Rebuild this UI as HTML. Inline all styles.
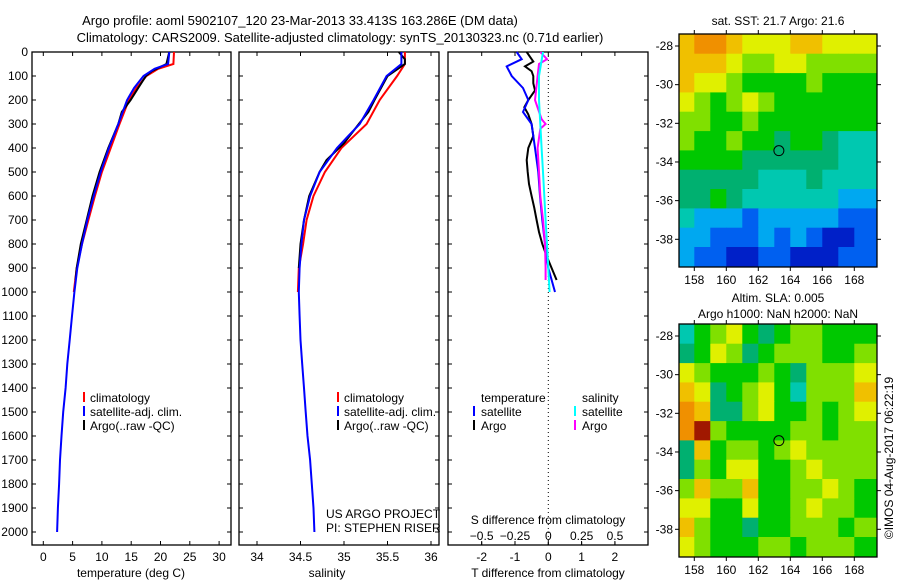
<!DOCTYPE html>
<html><head><meta charset="utf-8"><style>
html,body{margin:0;padding:0;background:#fff;}
svg{display:block;font-family:"Liberation Sans",sans-serif;}
</style></head><body>
<svg id="chart" width="900" height="580" viewBox="0 0 900 580" xmlns="http://www.w3.org/2000/svg">
<text x="300" y="25" font-size="13" text-anchor="middle">Argo profile: aoml 5902107_120 23-Mar-2013 33.413S 163.286E (DM data)</text>
<text x="340" y="42" font-size="13" text-anchor="middle">Climatology: CARS2009. Satellite-adjusted climatology: synTS_20130323.nc (0.71d earlier)</text>
<g id="g"></g>
</svg>
<script>
// ---- depth profiles ----
const tClimDepth=[0,50,70,100,150,200,300,400,500,600,700,800,900,1000];
const tClimVal=[22.3,22.2,19.6,17.6,15.9,14.6,13.0,11.5,10.0,8.8,7.7,6.6,5.7,5.2];
const tSatDepth=[0,50,70,100,150,200,300,400,500,600,700,800,900,1000,1100,1200,1300,1400,1500,1600,1700,1800,1900,2000];
const tSatVal=[21.5,21.3,19.0,17.1,15.5,14.3,12.8,11.2,9.8,8.6,7.5,6.6,5.8,5.3,4.9,4.5,4.1,3.8,3.4,3.1,2.85,2.7,2.5,2.35];
const tArgoDepth=[0,50,80,100,150,200,250,300,400,500,600,700,800,900,950];
const tArgoVal=[21.5,21.0,18.5,17.5,16.2,14.9,13.4,12.8,11.1,9.6,8.4,7.4,6.4,5.7,5.5];
const sClimDepth=[0,50,100,200,300,400,500,600,700,800,900,1000];
const sClimVal=[35.70,35.70,35.61,35.41,35.26,34.97,34.78,34.65,34.57,34.53,34.48,34.47];
const sSatDepth=[0,50,100,200,300,350,400,500,600,700,800,900,1000,1100,1200,1300,1400,1500,1600,1700,1800,1900,2000];
const sSatVal=[35.66,35.66,35.49,35.34,35.18,35.05,34.92,34.72,34.61,34.54,34.51,34.49,34.48,34.49,34.50,34.52,34.54,34.56,34.58,34.61,34.63,34.65,34.66];
const sArgoDepth=[0,30,50,100,200,250,300,380,450,500,600,700,800,900];
const sArgoVal=[35.63,35.70,35.70,35.50,35.35,35.28,35.17,35.00,34.80,34.72,34.60,34.54,34.50,34.48];
// ---- differences ----
const dTSatDepth=[0,30,60,100,150,200,250,300,400,500,600,700,800,900,1000];
const dTSatVal=[-0.95,-0.8,-1.25,-1.1,-0.76,-0.6,-0.76,-0.5,-0.4,-0.3,-0.25,-0.18,-0.1,0.0,0.2];
const dTArgoDepth=[0,20,40,60,80,100,130,160,200,230,260,300,350,400,450,500,550,600,650,700,750,800,850,900,950];
const dTArgoVal=[-0.65,-0.55,-0.45,-0.7,-0.5,-0.45,-0.45,-0.4,-0.6,-0.72,-0.6,-0.5,-0.45,-0.6,-0.65,-0.62,-0.58,-0.5,-0.42,-0.35,-0.28,-0.18,-0.05,0.1,0.25];
const dSArgoDepth=[0,30,50,100,200,280,300,320,400,500,600,700,800,900,950];
const dSArgoVal=[-0.06,-0.01,-0.07,-0.08,-0.1,-0.05,-0.02,-0.06,-0.08,-0.07,-0.06,-0.04,-0.025,-0.02,-0.02];
const dSSatDepth=[0,100,200,300,400,500,600,700,800,900,1000];
const dSSatVal=[-0.04,-0.07,-0.07,-0.06,-0.05,-0.04,-0.03,-0.02,-0.01,0.0,0.01];
// ---- ticks ----
const depthTicks=[0,100,200,300,400,500,600,700,800,900,1000,1100,1200,1300,1400,1500,1600,1700,1800,1900,2000];
const tempTicks=[0,5,10,15,20,25,30];
const salTicks=[34,34.5,35,35.5,36];
const dTTicks=[-2,-1,0,1,2];
const dSTicks=[-0.5,-0.25,0,0.25,0.5];
const latTicks=[28,30,32,34,36,38];
const lonTicks=[158,160,162,164,166,168];
// ---- maps (color index per 1-degree cell, rows lat 28..39, cols lon 157.5..168.5) ----
const sstGrid=[
[9,10,10,9,8,8,8,9,9,8,8,8],
[9,9,9,8,7,7,8,8,7,7,7,7],
[9,8,8,7,6,6,6,6,7,6,6,6],
[8,7,6,7,8,7,6,6,6,6,6,6],
[7,7,6,6,7,6,6,6,6,6,6,6],
[7,6,6,7,6,6,5,6,6,5,4,4],
[6,6,6,6,5,5,5,5,5,5,4,4],
[5,5,5,5,5,4,4,4,5,4,4,4],
[5,5,6,5,4,4,4,4,4,4,3,3],
[4,3,3,3,2,3,3,3,3,3,2,2],
[3,3,2,2,2,3,2,3,2,1,1,2],
[3,2,2,1,1,2,2,1,1,1,2,2]];
const slaGrid=[
[4,6,7,8,6,5,6,7,7,6,6,6],
[5,6,8,7,5,6,7,7,7,6,6,7],
[8,7,6,6,6,7,6,5,7,7,7,8],
[9,8,5,6,7,8,6,4,7,7,7,9],
[10,9,5,5,7,8,6,6,7,6,7,8],
[10,11,7,6,6,6,6,7,7,6,7,7],
[5,9,6,7,7,6,7,8,7,7,7,7],
[5,7,6,8,8,6,6,7,8,7,7,7],
[7,9,7,7,9,6,6,7,7,8,7,6],
[8,8,6,6,8,6,6,7,8,7,7,6],
[9,7,6,6,5,6,6,7,7,7,6,7],
[8,7,6,6,6,7,7,6,7,7,7,6]];
const palette=['#00008c','#0020c8','#0060f0','#00a8f0','#00c8b0','#00b070','#00c800','#80e000','#e0f000','#f0c000','#f09000','#a01800'];
const argoLon=163.286, argoLat=33.413;

const G=document.getElementById('g');
const NS='http://www.w3.org/2000/svg';
function el(tag,attrs,parent){const e=document.createElementNS(NS,tag);for(const k in attrs)e.setAttribute(k,attrs[k]);(parent||G).appendChild(e);return e;}
const top0=52, bot=545;
const yD=d=>top0+d*0.24;
const xT=t=>43.3+t*5.86;
const xS=s=>257+(s-34)*87;
const xDT=t=>548.3+t*33.3;
const xDS=s=>548.3+s*133.3;

function line(xs,ds,fx,color,name,w){
  const pts=xs.map((v,i)=>fx(v).toFixed(1)+','+yD(ds[i]).toFixed(1)).join(' ');
  const p=el('polyline',{points:pts,fill:'none',stroke:color,'stroke-width':w||2});
  
  
}
function panel(x0,x1,name){
  const r=el('rect',{x:x0,y:top0,width:x1-x0,height:bot-top0,fill:'none',stroke:'#000','stroke-width':1.3});
  
  
  depthTicks.forEach(d=>{el('line',{x1:x0,x2:x0+4,y1:yD(d),y2:yD(d),stroke:'#000'});el('line',{x1:x1-4,x2:x1,y1:yD(d),y2:yD(d),stroke:'#000'});});
}
function txt(x,y,s,name,size,anchor){const t=el('text',{x:x,y:y,'font-size':size||12,'text-anchor':anchor||'start'});t.textContent=s;return t;}

// Panel 1
panel(32,231,'temperature-panel');
depthTicks.forEach(d=>{txt(28,yD(d)+4,String(d),'depth-tick-label',12,'end');});
tempTicks.forEach(t=>{el('line',{x1:xT(t),x2:xT(t),y1:bot,y2:bot-4,stroke:'#000'});el('line',{x1:xT(t),x2:xT(t),y1:top0,y2:top0+4,stroke:'#000'});txt(xT(t),561,String(t),'temp-tick-label',12,'middle');});
txt(131,577,'temperature (deg C)','x-axis-title-temperature',12,'middle');
line(tClimVal,tClimDepth,xT,'#f00','temp-climatology-line');
line(tArgoVal,tArgoDepth,xT,'#000','temp-argo-line');
line(tSatVal,tSatDepth,xT,'#00f','temp-satellite-line');
// Panel 2
panel(239,439,'salinity-panel');
salTicks.forEach(s=>{el('line',{x1:xS(s),x2:xS(s),y1:bot,y2:bot-4,stroke:'#000'});el('line',{x1:xS(s),x2:xS(s),y1:top0,y2:top0+4,stroke:'#000'});txt(xS(s),561,String(s),'salinity-tick-label',12,'middle');});
txt(327,577,'salinity','x-axis-title-salinity',12,'middle');
line(sClimVal,sClimDepth,xS,'#f00','sal-climatology-line');
line(sArgoVal,sArgoDepth,xS,'#000','sal-argo-line');
line(sSatVal,sSatDepth,xS,'#00f','sal-satellite-line');
txt(326,518,'US ARGO PROJECT','project-credit',12);
txt(326,532,'PI: STEPHEN RISER','pi-credit',12);
// legends
[[84,'#f00','climatology'],[84,'#00f','satellite-adj. clim.'],[84,'#000','Argo(..raw -QC)']].forEach((l,i)=>{
  [83,337].forEach(x=>{el('rect',{x:x,y:392+i*14,width:2,height:10,fill:l[1]});txt(x+7,402+i*14,l[2],'legend-entry',12);});
});
// Panel 3
panel(448,648,'difference-panel');
const zl=el('line',{x1:548.3,x2:548.3,y1:top0,y2:bot,stroke:'#000','stroke-dasharray':'1,3'});


dTTicks.forEach(t=>{el('line',{x1:xDT(t),x2:xDT(t),y1:bot,y2:bot-4,stroke:'#000'});el('line',{x1:xDT(t),x2:xDT(t),y1:top0,y2:top0+4,stroke:'#000'});txt(xDT(t),561,String(t),'dT-tick-label',12,'middle');});
dSTicks.forEach(s=>{txt(xDS(s),540,String(s).replace('-','\u2212'),'dS-tick-label',12,'middle');el('line',{x1:xDS(s),x2:xDS(s),y1:bot,y2:bot-3,stroke:'#000'});});
txt(548,524,'S difference from climatology','s-diff-axis-title',12,'middle');
txt(548,577,'T difference from climatology','t-diff-axis-title',12,'middle');
line(dTArgoVal,dTArgoDepth,xDT,'#000','dT-argo-line');
line(dTSatVal,dTSatDepth,xDT,'#00f','dT-satellite-line');
line(dSArgoVal,dSArgoDepth,xDS,'#f0f','dS-argo-line');
line(dSSatVal,dSSatDepth,xDS,'#0ff','dS-satellite-line');
txt(481,402,'temperature','legend-header-temperature',12);
txt(582,402,'salinity','legend-header-salinity',12);
[[473,'#00f','satellite',416],[473,'#000','Argo',430],[574,'#0ff','satellite',416],[574,'#f0f','Argo',430]].forEach(l=>{el('rect',{x:l[0],y:l[3]-10,width:2,height:10,fill:l[1]});txt(l[0]+8,l[3],l[2],'legend-entry',12);});

// Maps
function map(y0,grid,name){
  const x0=679,x1=877,y1=y0+233;
  const lonX=lo=>694.3+(lo-158)*16;
  const latY=la=>y0+12+(la-28)*19.33;
  for(let r=0;r<grid.length;r++)for(let c=0;c<grid[r].length;c++){
    const lx=lonX(157+c), ly=latY(27.4+r);
    const cx0=Math.max(x0,lx), cy0=Math.max(y0,ly);
    const cx1=Math.min(x1,lonX(158+c)+(c==11?20:0)), cy1=Math.min(y1,latY(28.4+r)+(r==11?20:0));
    const cell=el('rect',{x:cx0.toFixed(1),y:cy0.toFixed(1),width:(cx1-cx0+0.5).toFixed(1),height:(cy1-cy0+0.5).toFixed(1),fill:palette[grid[r][c]]});
    
    
  }
  const b=el('rect',{x:x0,y:y0,width:x1-x0,height:y1-y0,fill:'none',stroke:'#000','stroke-width':1.3});
  
  
  latTicks.forEach(la=>{el('line',{x1:x0-4,x2:x0,y1:latY(la),y2:latY(la),stroke:'#000'});el('line',{x1:x1,x2:x1+4,y1:latY(la),y2:latY(la),stroke:'#000'});txt(673,latY(la)+4,'-'+la,'lat-tick-label',12,'end');});
  lonTicks.forEach(lo=>{el('line',{x1:lonX(lo),x2:lonX(lo),y1:y0-4,y2:y0,stroke:'#000'});el('line',{x1:lonX(lo),x2:lonX(lo),y1:y1,y2:y1+4,stroke:'#000'});txt(lonX(lo),y1+17,String(lo),'lon-tick-label',12,'middle');});
  const c=el('circle',{cx:lonX(argoLon),cy:latY(argoLat),r:5,fill:'none',stroke:'#000','stroke-width':1});
  
  
}
map(34,sstGrid,'sst-map');
map(324,slaGrid,'sla-map');
txt(778,25,'sat. SST: 21.7 Argo: 21.6','sst-map-title',12,'middle');
txt(778,302,'Altim. SLA: 0.005','sla-map-title',12,'middle');
txt(778,318,'Argo h1000: NaN h2000: NaN','sla-map-subtitle',12,'middle');
const cr=txt(0,0,'\u00A9IMOS 04-Aug-2017 06:22:19','timestamp',12,'middle');
cr.setAttribute('transform','translate(893,458) rotate(-90)');
</script>
</body></html>
